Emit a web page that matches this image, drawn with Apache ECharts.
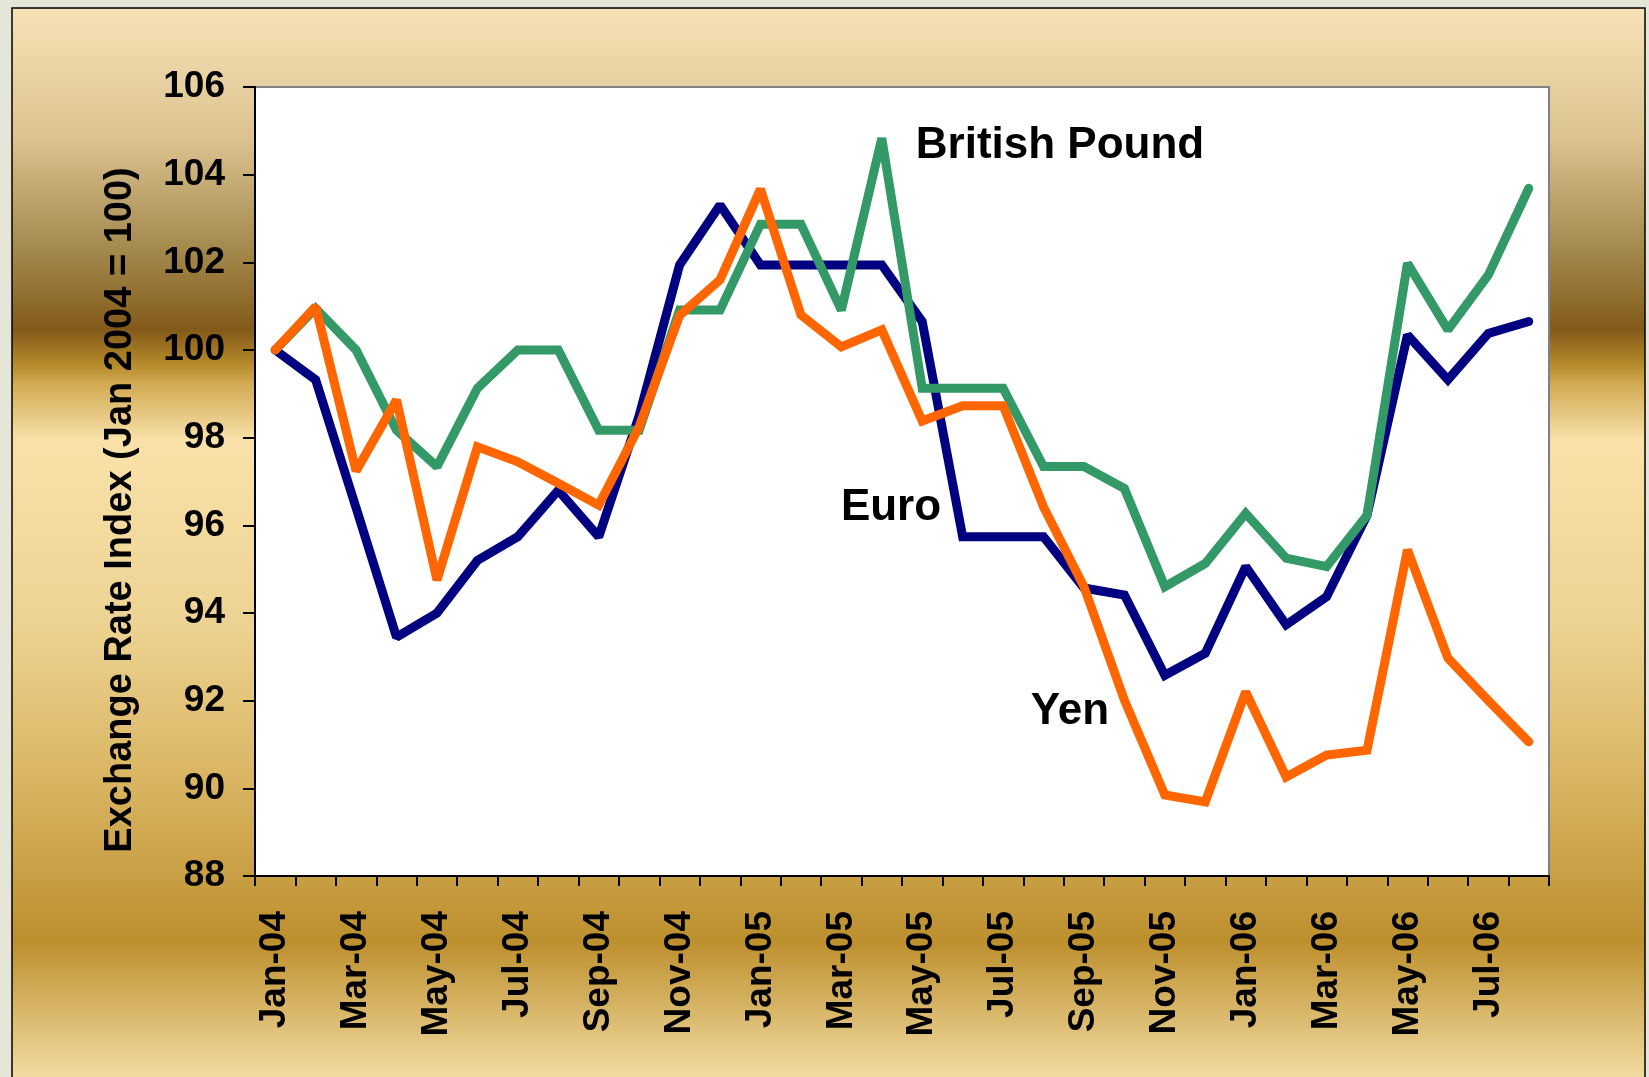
<!DOCTYPE html>
<html>
<head>
<meta charset="utf-8">
<script src="https://cdn.jsdelivr.net/npm/echarts@6/dist/echarts.min.js"></script>
<style>
  html, body { margin: 0; padding: 0; background: #E6E6D8; }
  #chart { width: 1649px; height: 1077px; }
</style>
</head>
<body>
<div id="chart"></div>
<script>
// monthly index, Jan 2004 = 100
const months = [
  'Jan-04', 'Feb-04', 'Mar-04', 'Apr-04', 'May-04', 'Jun-04', 'Jul-04', 'Aug-04',
  'Sep-04', 'Oct-04', 'Nov-04', 'Dec-04', 'Jan-05', 'Feb-05', 'Mar-05', 'Apr-05',
  'May-05', 'Jun-05', 'Jul-05', 'Aug-05', 'Sep-05', 'Oct-05', 'Nov-05', 'Dec-05',
  'Jan-06', 'Feb-06', 'Mar-06', 'Apr-06', 'May-06', 'Jun-06', 'Jul-06', 'Aug-06'
];
const euro = [
  100.0, 99.32, 96.4, 93.45, 94.0, 95.2, 95.74, 96.8,
  95.74, 98.5, 101.94, 103.31, 101.94, 101.94, 101.94, 101.94,
  100.65, 95.74, 95.74, 95.74, 94.57, 94.41, 92.58, 93.08,
  95.06, 93.73, 94.37, 96.23, 100.34, 99.32, 100.38, 100.65
];
const pound = [
  100.0, 100.95, 100.0, 98.17, 97.34, 99.13, 100.0, 100.0,
  98.17, 98.17, 100.91, 100.91, 102.87, 102.87, 100.91, 104.83,
  99.13, 99.13, 99.13, 97.34, 97.34, 96.84, 94.6, 95.13,
  96.27, 95.25, 95.06, 96.23, 101.98, 100.46, 101.71, 103.69
];
const yen = [
  100.0, 100.99, 97.24, 98.86, 94.75, 97.79, 97.45, 96.96,
  96.46, 98.25, 100.79, 101.6, 103.67, 100.8, 100.07, 100.46,
  98.38, 98.73, 98.73, 96.42, 94.6, 92.01, 89.85, 89.69,
  92.2, 90.26, 90.76, 90.87, 95.44, 92.97, 92.0, 91.06
];

const font = 'Liberation Sans, Arial, sans-serif';

const chart = echarts.init(document.getElementById('chart'));

function line(name, data, color) {
  return {
    name: name,
    type: 'line',
    data: data,
    symbol: 'none',
    lineStyle: { color: color, width: 9, cap: 'round', join: 'miter', miterLimit: 1.6 },
    emphasis: { disabled: true }
  };
}

chart.setOption({
  animation: false,
  backgroundColor: '#E6E6D8',
  graphic: [
    {
      type: 'rect', z: -10,
      shape: { x: 12, y: 8, width: 1633, height: 1080 },
      style: {
        stroke: '#000', lineWidth: 1.5,
        fill: new echarts.graphic.LinearGradient(0, 0, 0, 1, [
          { offset: 0, color: '#F7E3B7' },
          { offset: 0.12, color: '#DCC391' },
          { offset: 0.215, color: '#A88E53' },
          { offset: 0.272, color: '#8E6C2C' },
          { offset: 0.298, color: '#83591A' },
          { offset: 0.33, color: '#B58A2A' },
          { offset: 0.349, color: '#D2AB54' },
          { offset: 0.40, color: '#F9E1A9' },
          { offset: 0.565, color: '#EDD393' },
          { offset: 0.692, color: '#DDBA6A' },
          { offset: 0.864, color: '#BD902E' },
          { offset: 0.99, color: '#F2DBA2' },
          { offset: 1, color: '#F2DBA2' }
        ])
      }
    },
    {
      type: 'text', x: 121, y: 510, rotation: Math.PI / 2,
      style: {
        text: 'Exchange Rate Index (Jan 2004 = 100)',
        font: 'bold 38px ' + font, fill: '#000',
        align: 'center', verticalAlign: 'middle'
      }
    },
    {
      type: 'text', x: 1060, y: 146,
      style: { text: 'British Pound', font: 'bold 44px ' + font, fill: '#000', align: 'center', verticalAlign: 'middle' }
    },
    {
      type: 'text', x: 891, y: 508,
      style: { text: 'Euro', font: 'bold 44px ' + font, fill: '#000', align: 'center', verticalAlign: 'middle' }
    },
    {
      type: 'text', x: 1070, y: 712,
      style: { text: 'Yen', font: 'bold 44px ' + font, fill: '#000', align: 'center', verticalAlign: 'middle' }
    }
  ],
  grid: {
    left: 255, top: 87, right: 100, bottom: 201,
    show: true, backgroundColor: '#fff', borderColor: '#808080', borderWidth: 2,
    outerBoundsMode: 'none'
  },
  xAxis: {
    type: 'category',
    data: months,
    boundaryGap: true,
    axisLine: { lineStyle: { color: '#000', width: 2 } },
    axisTick: { show: true, interval: 0, length: 10, lineStyle: { color: '#000', width: 2 } },
    axisLabel: {
      interval: 1, rotate: 90, margin: 35,
      color: '#000', fontFamily: font, fontWeight: 'bold', fontSize: 37
    },
    splitLine: { show: false }
  },
  yAxis: {
    type: 'value',
    min: 88, max: 106, interval: 2,
    axisLine: { show: true, lineStyle: { color: '#000', width: 2 } },
    axisTick: { show: true, length: 12, lineStyle: { color: '#000', width: 2 } },
    axisLabel: {
      margin: 30, color: '#000', fontFamily: font, fontWeight: 'bold', fontSize: 37
    },
    splitLine: { show: false }
  },
  series: [
    line('Euro', euro, '#000080'),
    line('British Pound', pound, '#339966'),
    line('Yen', yen, '#FF6600')
  ]
});
</script>
</body>
</html>
